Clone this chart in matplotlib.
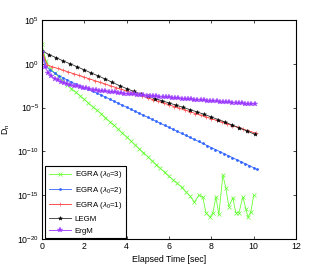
import numpy as np
import matplotlib
matplotlib.use("Agg")
import matplotlib.pyplot as plt

plt.rcParams['font.family'] = ['Liberation Sans', 'DejaVu Sans']
plt.rcParams['mathtext.fontset'] = 'custom'
plt.rcParams['mathtext.rm'] = 'Liberation Sans'
plt.rcParams['mathtext.it'] = 'Liberation Sans:italic'

# ---- data (log10 of D_n) ----
t_green = [0, 0.2, 0.4, 0.6, 0.8, 1.0, 1.2, 1.4, 1.6, 1.8, 2.0, 2.2, 2.4, 2.6, 2.8, 3.0,
           3.2, 3.4, 3.6, 3.8, 4.0, 4.2, 4.4, 4.6, 4.8, 5.0, 5.2, 5.4, 5.6, 5.8, 6.0,
           6.2, 6.4, 6.6, 6.8, 7.0, 7.2, 7.42, 7.6, 7.75, 7.94, 8.08, 8.22, 8.36, 8.55,
           8.69, 8.83, 9.02, 9.16, 9.31, 9.49, 9.64, 9.73, 9.87, 10.01]
v_green = [2.2, 0.3, -0.55, -1.05, -1.5, -1.95, -2.4, -2.85, -3.25, -3.65, -4.05, -4.5,
           -4.9, -5.3, -5.7, -6.15, -6.6, -7.0, -7.45, -7.9, -8.35, -8.8, -9.25, -9.7,
           -10.15, -10.6, -11.05, -11.5, -11.95, -12.4, -12.85, -13.25, -13.65, -14.1,
           -14.6, -15.1, -15.8, -15.0, -15.2, -17.0, -17.5, -17.0, -15.2, -17.2, -12.7,
           -14.2, -16.3, -15.3, -17.0, -17.0, -15.2, -16.6, -17.5, -16.9, -15.0]

t_blue = [0, 0.2, 0.4, 0.6, 0.8, 1.0, 1.2, 1.4, 1.6, 1.8, 2.0, 2.2, 2.4, 2.6, 2.8, 3.0,
          3.2, 3.4, 3.6, 3.8, 4.0, 4.2, 4.4, 4.6, 4.8, 5.0, 5.2, 5.4, 5.6, 5.8, 6.0,
          6.2, 6.4, 6.6, 6.8, 7.0, 7.2, 7.4, 7.6, 7.8, 8.0, 8.2, 8.4, 8.6, 8.8, 9.0,
          9.2, 9.4, 9.6, 9.8, 10.0, 10.15]
v_blue = [1.5, -0.3, -0.75, -1.05, -1.35, -1.6, -1.85, -2.1, -2.3, -2.5, -2.72, -2.93,
          -3.14, -3.35, -3.57, -3.8, -4.03, -4.26, -4.5, -4.73, -4.96, -5.19, -5.42,
          -5.65, -5.88, -6.11, -6.34, -6.57, -6.8, -7.03, -7.26, -7.49, -7.72, -7.95,
          -8.18, -8.41, -8.64, -8.87, -9.1, -9.33, -9.56, -9.79, -10.02, -10.25, -10.48,
          -10.71, -10.94, -11.17, -11.4, -11.63, -11.86, -12.05]

t_red = [0, 0.25, 0.5, 0.75, 1.0, 1.25, 1.5, 1.75, 2.0, 2.25, 2.5, 2.75, 3.0, 3.25, 3.5,
         3.75, 4.0, 4.25, 4.5, 4.75, 5.0, 5.25, 5.5, 5.75, 6.0, 6.25, 6.5, 6.75, 7.0,
         7.25, 7.5, 7.75, 8.0, 8.25, 8.5, 8.75, 9.0, 9.25, 9.5, 9.75, 10.1]
v_red = [1.5, -0.15, -0.35, -0.54, -0.74, -0.94, -1.14, -1.33, -1.53, -1.73, -1.93,
         -2.12, -2.32, -2.52, -2.72, -2.91, -3.11, -3.31, -3.5, -3.7, -3.9, -4.1, -4.3,
         -4.49, -4.69, -4.89, -5.08, -5.28, -5.48, -5.68, -5.87, -6.07, -6.27, -6.47,
         -6.66, -6.86, -7.06, -7.26, -7.45, -7.65, -7.92]

t_black = [0, 0.33, 0.67, 1.0, 1.33, 1.67, 2.0, 2.33, 2.67, 3.0, 3.33, 3.67, 4.0, 4.33,
           4.67, 5.0, 5.33, 5.67, 6.0, 6.33, 6.67, 7.0, 7.33, 7.67, 8.0, 8.33, 8.67,
           9.0, 9.33, 9.67, 10.05]
v_black = [1.5, 1.05, 0.7, 0.33, 0.0, -0.35, -0.7, -1.05, -1.4, -1.75, -2.12, -2.5,
           -2.83, -3.15, -3.45, -3.72, -3.97, -4.22, -4.47, -4.72, -4.98, -5.24, -5.5,
           -5.78, -6.07, -6.37, -6.68, -7.0, -7.32, -7.65, -8.05]

t_purple = [0, 0.15, 0.3, 0.45, 0.6, 0.75, 0.9, 1.05, 1.2, 1.35, 1.5, 1.65, 1.8, 1.95,
            2.1, 2.25, 2.4, 2.55, 2.7, 2.85, 3.0, 3.15, 3.3, 3.45, 3.6, 3.75, 3.9, 4.05,
            4.2, 4.35, 4.5, 4.65, 4.8, 4.95, 5.1, 5.25, 5.4, 5.55, 5.7, 5.85, 6.0, 6.15,
            6.3, 6.45, 6.6, 6.75, 6.9, 7.05, 7.2, 7.35, 7.5, 7.65, 7.8, 7.95, 8.1, 8.25,
            8.4, 8.55, 8.7, 8.85, 9.0, 9.15, 9.3, 9.45, 9.6, 9.75, 9.9, 10.05]
v_purple = [1.35, -0.4, -1.0, -1.4, -1.7, -1.9, -2.05, -2.2, -2.3, -2.4, -2.5, -2.58,
            -2.66, -2.73, -2.8, -2.88, -2.95, -3.02, -3.08, -3.12, -3.16, -3.2, -3.24,
            -3.28, -3.32, -3.36, -3.4, -3.44, -3.47, -3.5, -3.53, -3.56, -3.6, -3.63,
            -3.66, -3.7, -3.73, -3.76, -3.79, -3.82, -3.85, -3.88, -3.91, -3.94, -3.97,
            -4.0, -4.03, -4.06, -4.09, -4.12, -4.15, -4.18, -4.21, -4.24, -4.27, -4.3,
            -4.33, -4.36, -4.38, -4.41, -4.44, -4.46, -4.49, -4.51, -4.54, -4.56, -4.58,
            -4.6]

labels = [r'EGRA ($\lambda_0$=3)', r'EGRA ($\lambda_0$=2)', r'EGRA ($\lambda_0$=1)', 'LEGM', 'ErgM']
x_ticks = [0, 2, 4, 6, 8, 10, 12]
y_ticks = [1e-20, 1e-15, 1e-10, 1e-5, 1e0, 1e5]
y_ticklabels = [r'$10^{-20}$', r'$10^{-15}$', r'$10^{-10}$', r'$10^{-5}$', r'$10^{0}$', r'$10^{5}$']

fig = plt.figure(figsize=(3.27, 2.73), dpi=100)
ax = fig.add_axes([0.128, 0.1245, 0.777, 0.8025])

ax.semilogy(t_green, 10.0 ** np.array(v_green), color='#66ff33', marker='x', ms=2.6,
            mew=0.5, lw=0.6, label=labels[0])
ax.semilogy(t_blue, 10.0 ** np.array(v_blue), color='#3366ff', marker='.', ms=2.0,
            lw=0.6, label=labels[1])
ax.semilogy(t_red, 10.0 ** np.array(v_red), color='#ff3333', marker='+', ms=3.5,
            mew=0.5, mec='#ff5555', lw=0.6, label=labels[2])
ax.semilogy(t_black, 10.0 ** np.array(v_black), color='#333333', marker='*', ms=3.0,
            mfc='black', mec='black', mew=0.3, lw=0.6, label=labels[3])
ax.semilogy(t_purple, 10.0 ** np.array(v_purple), color='#9933ff', marker='*', ms=4.0,
            mfc='#9933ff', mec='#aa55ff', mew=0.3, lw=0.6, label=labels[4])

ax.set_xlim(0, 12)
ax.set_ylim(1e-20, 1e5)
ax.set_xticks(x_ticks)
ax.set_xticklabels([str(v) for v in x_ticks])
ax.set_yticks(y_ticks)
ax.set_yticklabels(y_ticklabels)
ax.yaxis.set_minor_locator(matplotlib.ticker.NullLocator())
ax.tick_params(direction='in', length=2.5, width=0.5, labelsize=6.3,
               top=True, right=True, pad=2)
for s in ax.spines.values():
    s.set_linewidth(0.8)

ax.set_xlabel('Elapsed Time [sec]', fontsize=6.3, labelpad=3)
ax.set_ylabel(r'D$_\mathrm{n}$', fontsize=6.3, labelpad=4)

leg = ax.legend(loc='lower left', bbox_to_anchor=(0.014, 0.003), fontsize=5.7,
                frameon=True, fancybox=False, edgecolor='black', framealpha=1,
                handlelength=2.8, handletextpad=0.45, borderpad=0.45, labelspacing=0.55,
                borderaxespad=0.0)
leg.get_frame().set_linewidth(0.8)

fig.savefig('out.png', dpi=100)
